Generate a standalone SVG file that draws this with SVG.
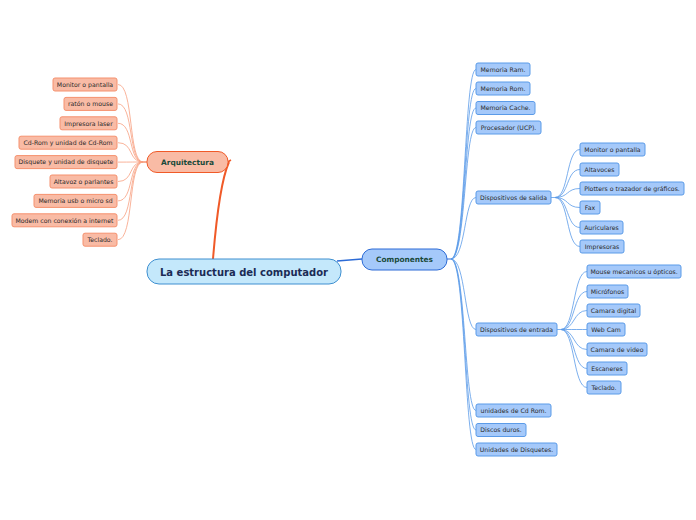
<svg xmlns="http://www.w3.org/2000/svg" width="696" height="520" viewBox="0 0 696 520">
<style>
text{font-family:"DejaVu Sans","Verdana",sans-serif;}
.lb rect{fill:#f9bba5;stroke:#f5916e;stroke-width:1;}
.rb rect{fill:#a5c9fa;stroke:#5b9be8;stroke-width:1;}
.cl{font-size:6.2px;fill:#2a2a2a;text-anchor:middle;}
.lc{fill:none;stroke:#f8a080;stroke-width:0.8;}
.rc{fill:none;stroke:#5b9be8;stroke-width:0.8;}
.main{font-size:10px;font-weight:bold;fill:#1b2b55;text-anchor:middle;}
.top{font-size:7.4px;font-weight:bold;fill:#1a4a3a;text-anchor:middle;}
</style>
<rect width="696" height="520" fill="#ffffff"/>
<g id="connectors">
<path d="M213,259 C216,222 221,180 229,162" fill="none" stroke="#f05a28" stroke-width="2"/>
<path d="M226,163 L231,160" fill="none" stroke="#f05a28" stroke-width="1.5"/>
<path d="M337,261 L362,259" fill="none" stroke="#2c6bd6" stroke-width="1.5"/>
<path d="M143,162 L147,162" fill="none" stroke="#f05a28" stroke-width="1"/>
<path d="M447,259 L451,259" fill="none" stroke="#2c6bd6" stroke-width="1"/>
<g class="lc">
<path d="M143,162 C128,162 134,84.5 118,84.5"/>
<path d="M143,162 C128,162 134,103.9 118,103.9"/>
<path d="M143,162 C128,162 134,123.3 118,123.3"/>
<path d="M143,162 C128,162 134,142.7 118,142.7"/>
<path d="M143,162 C128,162 134,162.1 118,162.1"/>
<path d="M143,162 C128,162 134,181.5 118,181.5"/>
<path d="M143,162 C128,162 134,200.9 118,200.9"/>
<path d="M143,162 C128,162 134,220.3 118,220.3"/>
<path d="M143,162 C128,162 134,239.7 118,239.7"/>
</g>
<g class="rc">
<path d="M451,259 C466,259 464,69.5 476,69.5"/>
<path d="M451,259 C466,259 464,88.5 476,88.5"/>
<path d="M451,259 C466,259 464,108 476,108"/>
<path d="M451,259 C466,259 464,127.5 476,127.5"/>
<path d="M451,259 C466,259 464,197.5 476,197.5"/>
<path d="M451,259 C466,259 464,329.5 476,329.5"/>
<path d="M451,259 C466,259 464,410.5 476,410.5"/>
<path d="M451,259 C466,259 464,430 476,430"/>
<path d="M451,259 C466,259 464,449.5 476,449.5"/>
<path d="M551,197.5 L555,197.5"/>
<path d="M555,197.5 C569,197.5 566,149.5 580,149.5"/>
<path d="M555,197.5 C569,197.5 566,169.5 580,169.5"/>
<path d="M555,197.5 C569,197.5 566,188.5 580,188.5"/>
<path d="M555,197.5 C569,197.5 566,207.5 580,207.5"/>
<path d="M555,197.5 C569,197.5 566,227.5 580,227.5"/>
<path d="M555,197.5 C569,197.5 566,246.5 580,246.5"/>
<path d="M557,329.5 L561,329.5"/>
<path d="M561,329.5 C575,329.5 573,271.5 587,271.5"/>
<path d="M561,329.5 C575,329.5 573,291.5 587,291.5"/>
<path d="M561,329.5 C575,329.5 573,310.5 587,310.5"/>
<path d="M561,329.5 C575,329.5 573,329.5 587,329.5"/>
<path d="M561,329.5 C575,329.5 573,349.5 587,349.5"/>
<path d="M561,329.5 C575,329.5 573,368.5 587,368.5"/>
<path d="M561,329.5 C575,329.5 573,387.5 587,387.5"/>
</g>
</g>
<g id="root"><rect x="147" y="259" width="194" height="25" rx="12" fill="#c4e8fb" stroke="#3e8fd0" stroke-width="1"/><text class="main" x="244" y="275.5">La estructura del computador</text></g>
<g id="arquitectura"><rect x="147" y="151.5" width="81" height="21" rx="10" fill="#f9bba5" stroke="#f05a28" stroke-width="1"/><text class="top" x="187.5" y="164.8">Arquitectura</text></g>
<g id="componentes"><rect x="362" y="249" width="85" height="21" rx="10" fill="#a5c9fa" stroke="#2c6bd6" stroke-width="1"/><text class="top" x="404.5" y="262.3">Componentes</text></g>
<g id="l1" class="lb"><rect x="53" y="78" width="64" height="13" rx="2"/><text class="cl" x="85" y="86.8">Monitor o pantalla</text></g>
<g id="l2" class="lb"><rect x="64" y="97.4" width="53" height="13" rx="2"/><text class="cl" x="90.5" y="106.2">ratón o mouse</text></g>
<g id="l3" class="lb"><rect x="60" y="116.8" width="57" height="13" rx="2"/><text class="cl" x="88.5" y="125.6">Impresora laser</text></g>
<g id="l4" class="lb"><rect x="19" y="136.2" width="98" height="13" rx="2"/><text class="cl" x="68" y="145">Cd-Rom y unidad de Cd-Rom</text></g>
<g id="l5" class="lb"><rect x="15" y="155.6" width="102" height="13" rx="2"/><text class="cl" x="66" y="164.4">Disquete y unidad de disquete</text></g>
<g id="l6" class="lb"><rect x="50" y="175" width="67" height="13" rx="2"/><text class="cl" x="83.5" y="183.8">Altavoz o parlantes</text></g>
<g id="l7" class="lb"><rect x="34" y="194.4" width="83" height="13" rx="2"/><text class="cl" x="75.5" y="203.2">Memoria usb o micro sd</text></g>
<g id="l8" class="lb"><rect x="12" y="213.8" width="105" height="13" rx="2"/><text class="cl" x="64.5" y="222.6">Modem con conexión a internet</text></g>
<g id="l9" class="lb"><rect x="83" y="233.2" width="34" height="13" rx="2"/><text class="cl" x="100" y="242">Teclado.</text></g>
<g id="r1" class="rb"><rect x="476" y="63" width="54" height="13" rx="2"/><text class="cl" x="503" y="71.8">Memoria Ram.</text></g>
<g id="r2" class="rb"><rect x="476" y="82" width="54" height="13" rx="2"/><text class="cl" x="503" y="90.8">Memoria Rom.</text></g>
<g id="r3" class="rb"><rect x="476" y="101.5" width="59" height="13" rx="2"/><text class="cl" x="505.5" y="110.3">Memoria Cache.</text></g>
<g id="r4" class="rb"><rect x="476" y="121" width="65" height="13" rx="2"/><text class="cl" x="508.5" y="129.8">Procesador (UCP).</text></g>
<g id="r5" class="rb"><rect x="476" y="191" width="75" height="13" rx="2"/><text class="cl" x="513.5" y="199.8">Dispositivos de salida</text></g>
<g id="r6" class="rb"><rect x="476" y="323" width="81" height="13" rx="2"/><text class="cl" x="516.5" y="331.8">Dispositivos de entrada</text></g>
<g id="r7" class="rb"><rect x="476" y="404" width="75" height="13" rx="2"/><text class="cl" x="513.5" y="412.8">unidades de Cd Rom.</text></g>
<g id="r8" class="rb"><rect x="476" y="423.5" width="50" height="13" rx="2"/><text class="cl" x="501" y="432.3">Discos duros.</text></g>
<g id="r9" class="rb"><rect x="476" y="443" width="81" height="13" rx="2"/><text class="cl" x="516.5" y="451.8">Unidades de Disquetes.</text></g>
<g id="s1" class="rb"><rect x="580" y="143" width="65" height="13" rx="2"/><text class="cl" x="612.5" y="151.8">Monitor o pantalla</text></g>
<g id="s2" class="rb"><rect x="580" y="163" width="39" height="13" rx="2"/><text class="cl" x="599.5" y="171.8">Altavoces</text></g>
<g id="s3" class="rb"><rect x="580" y="182" width="104" height="13" rx="2"/><text class="cl" x="632" y="190.8">Plotters o trazador de gráficos.</text></g>
<g id="s4" class="rb"><rect x="580" y="201" width="20" height="13" rx="2"/><text class="cl" x="590" y="209.8">Fax</text></g>
<g id="s5" class="rb"><rect x="580" y="221" width="43" height="13" rx="2"/><text class="cl" x="601.5" y="229.8">Auriculares</text></g>
<g id="s6" class="rb"><rect x="580" y="240" width="44" height="13" rx="2"/><text class="cl" x="602" y="248.8">Impresoras</text></g>
<g id="e1" class="rb"><rect x="587" y="265" width="94" height="13" rx="2"/><text class="cl" x="634" y="273.8">Mouse mecanicos u ópticos.</text></g>
<g id="e2" class="rb"><rect x="587" y="285" width="41" height="13" rx="2"/><text class="cl" x="607.5" y="293.8">Micrófonos</text></g>
<g id="e3" class="rb"><rect x="587" y="304" width="53" height="13" rx="2"/><text class="cl" x="613.5" y="312.8">Camara digital</text></g>
<g id="e4" class="rb"><rect x="587" y="323" width="38" height="13" rx="2"/><text class="cl" x="606" y="331.8">Web Cam</text></g>
<g id="e5" class="rb"><rect x="587" y="343" width="60" height="13" rx="2"/><text class="cl" x="617" y="351.8">Camara de video</text></g>
<g id="e6" class="rb"><rect x="587" y="362" width="40" height="13" rx="2"/><text class="cl" x="607" y="370.8">Escaneres</text></g>
<g id="e7" class="rb"><rect x="587" y="381" width="34" height="13" rx="2"/><text class="cl" x="604" y="389.8">Teclado.</text></g>
</svg>
